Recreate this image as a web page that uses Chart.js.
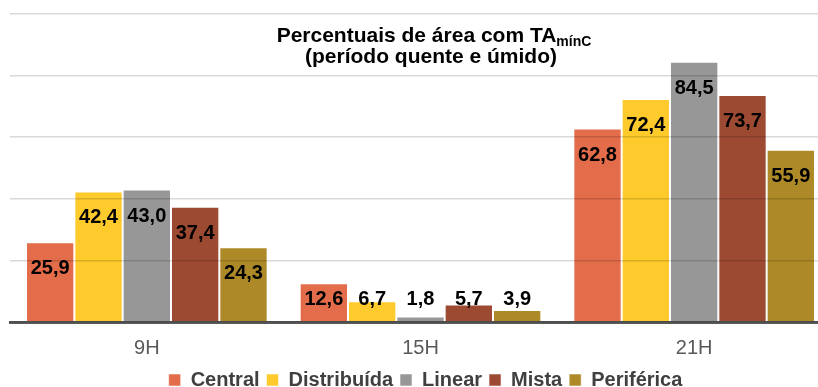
<!DOCTYPE html>
<html>
<head>
<meta charset="utf-8">
<script src="https://cdn.jsdelivr.net/npm/chart.js@4"></script>
<style>
  body { margin: 0; overflow: hidden; background: #fff; }
  #wrap { position: relative; width: 850px; height: 400px; }
</style>
</head>
<body>
<div id="wrap"><canvas id="chart-area"></canvas></div>
<script>
// periods and series (percent of area)
var categories = ['9H', '15H', '21H'];
var seriesNames = ['Central', 'Distribuída', 'Linear', 'Mista', 'Periférica'];
var central = [25.9, 12.6, 62.8];
var distribuida = [42.4, 6.7, 72.4];
var linear = [43.0, 1.8, 84.5];
var mista = [37.4, 5.7, 73.7];
var periferica = [24.3, 3.9, 55.9];
var yTicks = [0, 20, 40, 60, 80, 100];

var colors = ['#E36C4A', '#FFCA2C', '#979797', '#9D4A33', '#AD8A27'];
var font = 'Arial, "Liberation Sans", sans-serif';

// title with subscript, drawn inside the plot area
var titlePlugin = {
	id: 'titleSub',
	afterLayout: function (chart) {
		// nudge legend a little to the right
		chart.legend.left += 5;
		chart.legend.right += 5;
	},
	afterDraw: function (chart) {
		var ctx = chart.ctx;
		ctx.save();
		ctx.fillStyle = '#000';
		ctx.textBaseline = 'alphabetic';
		var main = 'Percentuais de área com TA';
		var sub = 'mínC';
		ctx.font = 'bold 21px ' + font;
		var w1 = ctx.measureText(main).width;
		ctx.font = 'bold 14px ' + font;
		var w2 = ctx.measureText(sub).width;
		var x0 = 434 - (w1 + w2) / 2;
		ctx.textAlign = 'left';
		ctx.font = 'bold 21px ' + font;
		ctx.fillText(main, x0, 42);
		ctx.font = 'bold 14px ' + font;
		ctx.fillText(sub, x0 + w1, 46);
		ctx.font = 'bold 21px ' + font;
		ctx.textAlign = 'center';
		ctx.fillText('(período quente e úmido)', 431, 63);
		ctx.restore();
	}
};

// value labels near the top of each bar
var labelPlugin = {
	id: 'barValues',
	afterDatasetsDraw: function (chart) {
		var ctx = chart.ctx;
		var zero = chart.scales.y.getPixelForValue(0);
		ctx.save();
		ctx.font = 'bold 20px ' + font;
		ctx.fillStyle = '#000';
		ctx.textAlign = 'center';
		ctx.textBaseline = 'middle';
		chart.data.datasets.forEach(function (ds, i) {
			chart.getDatasetMeta(i).data.forEach(function (bar, j) {
				var y = Math.min(bar.y + 26.5, zero - 22.5);
				ctx.fillText(ds.data[j].toFixed(1).replace('.', ','), bar.x, y);
			});
		});
		ctx.restore();
	}
};

function init () {
	var values = [central, distribuida, linear, mista, periferica];
	var datasets = values.map(function (v, i) {
		return {
			label: seriesNames[i],
			data: v,
			backgroundColor: colors[i],
			borderColor: 'rgba(255,255,255,0.55)',
			borderWidth: 1
		};
	});
	barChart(datasets);
}

function barChart (datasets) {
	var config = {
		type: 'bar',
		data: { labels: categories, datasets: datasets },
		plugins: [titlePlugin, labelPlugin],
		options: {
			responsive: true,
			maintainAspectRatio: false,
			animation: false,
			datasets: { bar: { categoryPercentage: 0.883, barPercentage: 1 } },
			layout: { padding: { left: 10, right: 19, top: 14, bottom: 0 } },
			plugins: {
				title: { display: false },
				tooltip: { enabled: false },
				legend: {
					position: 'bottom',
					labels: {
						font: { family: font, size: 20, weight: 'bold' },
						color: '#404040',
						boxWidth: 12,
						boxHeight: 12,
						padding: 7
					}
				}
			},
			scales: {
				x: {
					grid: { display: false },
					border: { color: '#595959', width: 3, z: 1 },
					ticks: { color: '#595959', font: { family: font, size: 20 }, padding: 6 },
					afterFit: function (scale) { scale.height = 41; }
				},
				y: {
					min: 0,
					max: 100,
					afterBuildTicks: function (axis) {
						axis.ticks = yTicks.map(function (v) { return { value: v }; });
					},
					ticks: { display: false },
					border: { display: false },
					grid: { color: 'rgba(0,0,0,0.15)', lineWidth: 1.5, drawTicks: false, z: 1 }
				}
			}
		}
	};
	var ctx = document.getElementById('chart-area').getContext('2d');
	window.myBar = new Chart(ctx, config);
}

init();
</script>
</body>
</html>
